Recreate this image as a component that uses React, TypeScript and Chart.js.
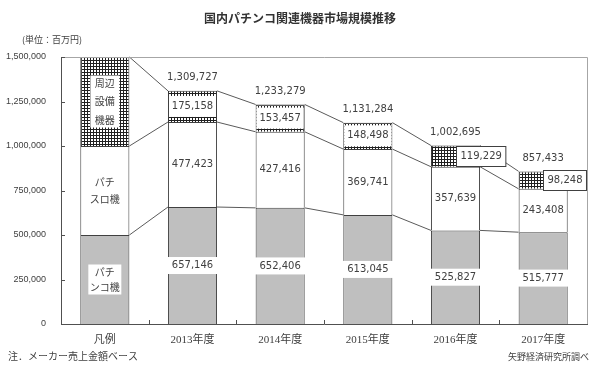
import React, { useEffect, useRef } from 'react';
import { Chart, registerables } from 'chart.js';

Chart.register(...registerables);

const CATEGORIES = ['凡例', '2013年度', '2014年度', '2015年度', '2016年度', '2017年度'];
const LEGEND_SEGMENT = 500000;
const PACHINKO = [657146, 652406, 613045, 525827, 515777];
const PACHISLOT = [477423, 427416, 369741, 357639, 243408];
const PERIPHERAL = [175158, 153457, 148498, 119229, 98248];
const TOTALS = [1309727, 1233279, 1131284, 1002695, 857433];
const Y_TICKS = [0, 250000, 500000, 750000, 1000000, 1250000, 1500000];
const LEGEND_LABELS = [['パチ', 'ンコ機'], ['パチ', 'スロ機'], ['周辺', '設備', '機器']];
const CALLOUT = [false, false, false, true, true];
const TITLE = '国内パチンコ関連機器市場規模推移';
const UNIT = '(単位：百万円)';
const NOTE = '注．メーカー売上金額ベース';
const SOURCE = '矢野経済研究所調べ';

const fmt = (v: number) => v.toLocaleString('en-US');
const TEXT = '#404040';
const NUM_FONT = '10px "DejaVu Sans", sans-serif';
const JP_FONT = '"Noto Sans CJK JP", sans-serif';

function makePattern(): CanvasPattern | string {
  const c = document.createElement('canvas');
  c.width = 3;
  c.height = 3;
  const g = c.getContext('2d');
  if (!g) return '#888';
  g.fillStyle = '#ffffff';
  g.fillRect(0, 0, 3, 3);
  g.fillStyle = '#202020';
  g.fillRect(0, 0, 3, 1);
  g.fillRect(0, 0, 1, 3);
  const p = g.createPattern(c, 'repeat');
  return p || '#888';
}

const decor = {
  id: 'decor',
  afterDatasetsDraw(chart: any) {
    const ctx: CanvasRenderingContext2D = chart.ctx;
    const area = chart.chartArea;
    const metas = [0, 1, 2].map((d) => chart.getDatasetMeta(d).data);
    ctx.save();

    // connectors
    ctx.strokeStyle = '#5a5a5a';
    ctx.lineWidth = 1;
    for (let d = 0; d < 3; d++) {
      for (let i = 0; i < CATEGORIES.length - 1; i++) {
        const a = metas[d][i];
        const b = metas[d][i + 1];
        ctx.beginPath();
        ctx.moveTo(a.x + a.width / 2, a.y);
        ctx.lineTo(b.x - b.width / 2, b.y);
        ctx.stroke();
      }
    }

    ctx.textAlign = 'center';
    ctx.textBaseline = 'middle';

    // legend column labels
    const lineH = [15, 17, 18.5];
    const boxW = [33, 0, 29];
    const boxH = [30, 0, 52];
    for (let d = 0; d < 3; d++) {
      const el = metas[d][0];
      const cy = (el.y + el.base) / 2;
      if (boxW[d] > 0) {
        ctx.fillStyle = '#ffffff';
        ctx.fillRect(el.x - boxW[d] / 2, cy - boxH[d] / 2, boxW[d], boxH[d]);
      }
      const lines = LEGEND_LABELS[d];
      ctx.fillStyle = TEXT;
      ctx.font = '10px ' + JP_FONT;
      lines.forEach((t, k) => {
        ctx.fillText(t, el.x, cy + (k - (lines.length - 1) / 2) * lineH[d]);
      });
    }

    ctx.font = NUM_FONT;
    for (let i = 0; i < PACHINKO.length; i++) {
      const idx = i + 1;
      // pachinko
      const e0 = metas[0][idx];
      const c0 = (e0.y + e0.base) / 2;
      ctx.fillStyle = '#ffffff';
      ctx.fillRect(e0.x - e0.width / 2 - 1, c0 - 8.5, e0.width + 2, 17);
      ctx.fillStyle = TEXT;
      ctx.fillText(fmt(PACHINKO[i]), e0.x, c0);
      // pachislot
      const e1 = metas[1][idx];
      const c1 = (e1.y + e1.base) / 2;
      ctx.fillText(fmt(PACHISLOT[i]), e1.x, c1);
      // peripheral
      const e2 = metas[2][idx];
      const c2 = (e2.y + e2.base) / 2;
      const txt = fmt(PERIPHERAL[i]);
      if (CALLOUT[i]) {
        const w = ctx.measureText(txt).width + 8;
        const left = Math.round(e2.x) + 0.5;
        const top = Math.round(c2 - 10) + 0.5;
        ctx.fillStyle = '#ffffff';
        ctx.fillRect(left, top, w, 20);
        ctx.strokeStyle = '#404040';
        ctx.strokeRect(left, top, w, 20);
        ctx.fillStyle = TEXT;
        ctx.fillText(txt, left + w / 2, c2 + 0.5);
      } else {
        ctx.fillStyle = '#ffffff';
        ctx.fillRect(e2.x - e2.width / 2 + 1, c2 - 10.5, e2.width - 2, 21);
        ctx.fillStyle = TEXT;
        ctx.fillText(txt, e2.x, c2);
      }
      // total
      ctx.fillText(fmt(TOTALS[i]), e2.x, e2.y - 13);
    }

    // frame
    ctx.strokeStyle = '#a6a6a6';
    ctx.beginPath();
    ctx.moveTo(area.left, area.top + 0.5);
    ctx.lineTo(area.right + 0.5, area.top + 0.5);
    ctx.lineTo(area.right + 0.5, area.bottom);
    ctx.stroke();
    ctx.strokeStyle = '#505050';
    ctx.beginPath();
    ctx.moveTo(area.left + 0.5, area.top);
    ctx.lineTo(area.left + 0.5, area.bottom + 0.5);
    ctx.lineTo(area.right + 1, area.bottom + 0.5);
    ctx.stroke();

    // ticks
    const ys = chart.scales.y;
    const xs = chart.scales.x;
    ctx.beginPath();
    Y_TICKS.forEach((v) => {
      const py = Math.round(ys.getPixelForValue(v)) + 0.5;
      ctx.moveTo(area.left, py);
      ctx.lineTo(area.left + 4, py);
    });
    for (let k = 0; k < CATEGORIES.length - 1; k++) {
      const px = Math.round((xs.getPixelForValue(k) + xs.getPixelForValue(k + 1)) / 2) + 0.5;
      ctx.moveTo(px, area.bottom);
      ctx.lineTo(px, area.bottom - 4);
    }
    ctx.stroke();
    ctx.restore();
  },
  afterDraw(chart: any) {
    const ctx: CanvasRenderingContext2D = chart.ctx;
    ctx.save();
    ctx.fillStyle = '#333333';
    ctx.textBaseline = 'middle';
    ctx.textAlign = 'center';
    ctx.font = 'bold 12px ' + JP_FONT;
    ctx.fillText(TITLE, 300, 18);
    ctx.fillStyle = TEXT;
    ctx.textAlign = 'left';
    ctx.font = '9px ' + JP_FONT;
    ctx.fillText(UNIT, 22, 40);
    ctx.font = '10px ' + JP_FONT;
    ctx.fillText(NOTE, 8, 356);
    ctx.textAlign = 'right';
    ctx.font = '9px ' + JP_FONT;
    ctx.fillText(SOURCE, 589, 357);
    ctx.restore();
  },
};

export default function App() {
  const ref = useRef<HTMLCanvasElement>(null);
  useEffect(() => {
    if (!ref.current) return;
    const pattern = makePattern();
    const chart = new Chart(ref.current, {
      type: 'bar',
      data: {
        labels: CATEGORIES,
        datasets: [
          {
            label: 'パチンコ機',
            data: [LEGEND_SEGMENT, ...PACHINKO],
            backgroundColor: '#bfbfbf',
            borderColor: '#404040',
            borderWidth: 1,
          },
          {
            label: 'パチスロ機',
            data: [LEGEND_SEGMENT, ...PACHISLOT],
            backgroundColor: '#ffffff',
            borderColor: '#404040',
            borderWidth: 1,
          },
          {
            label: '周辺設備機器',
            data: [LEGEND_SEGMENT, ...PERIPHERAL],
            backgroundColor: pattern as any,
            borderColor: '#303030',
            borderWidth: 1,
          },
        ],
      },
      options: {
        responsive: false,
        animation: false,
        devicePixelRatio: 1,
        layout: { padding: { top: 57, right: 13, left: 0, bottom: 0 } },
        datasets: { bar: { barPercentage: 0.56, categoryPercentage: 1 } },
        plugins: {
          legend: { display: false },
          tooltip: { enabled: false },
          title: { display: false },
        },
        scales: {
          x: {
            stacked: true,
            grid: { display: false, drawTicks: false },
            border: { display: false },
            ticks: {
              color: TEXT,
              padding: 10,
              font: { family: '"Liberation Serif", "Noto Sans CJK JP", serif', size: 11 },
            },
            afterFit: (s: any) => {
              s.height = 44;
            },
          },
          y: {
            stacked: true,
            min: 0,
            max: 1500000,
            grid: { display: false, drawTicks: false },
            border: { display: false },
            ticks: {
              stepSize: 250000,
              color: TEXT,
              padding: 15,
              font: { family: '"Liberation Sans", sans-serif', size: 9 },
              callback: (v: any) => fmt(Number(v)),
            },
            afterFit: (s: any) => {
              s.width = 61;
            },
          },
        },
      },
      plugins: [decor],
    });
    return () => chart.destroy();
  }, []);
  return (
    <div style={{ position: 'fixed', left: 0, top: 0, width: 600, height: 368, background: '#fff' }}>
      <canvas ref={ref} width={600} height={368} />
    </div>
  );
}
